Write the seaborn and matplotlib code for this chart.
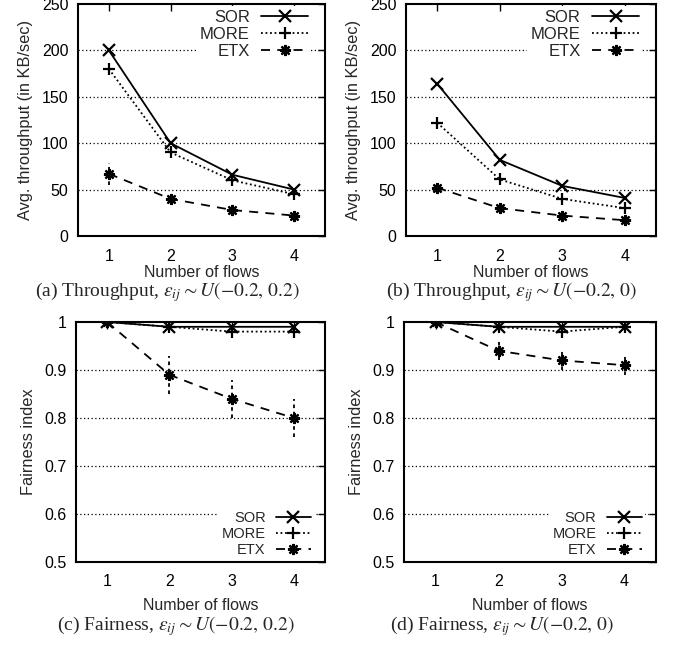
import pandas as pd
import matplotlib
matplotlib.use("Agg")
import matplotlib.pyplot as plt
import seaborn as sns

# --- DATA ---
FLOWS = [1, 2, 3, 4]
METHODS = ['SOR', 'MORE', 'ETX']

# (a) throughput, U(-0.2, 0.2)
thr_a_sor = [200, 100, 66, 50]
thr_a_more = [180, 90, 60, 45]
thr_a_etx = [67, 40, 28, 22]
thr_a_etx_err = [12, 5, 2, 2]
thr_a_more_err = [6, 3, 2, 2]

# (b) throughput, U(-0.2, 0)
thr_b_sor = [164, 82, 54, 41]
thr_b_more = [122, 61, 40, 30]
thr_b_etx = [52, 30, 22, 17]
thr_b_etx_err = [5, 2, 2, 2]
thr_b_more_err = [3, 2, 2, 2]

# (c) fairness, U(-0.2, 0.2)
fair_c_sor = [1.0, 0.99, 0.99, 0.99]
fair_c_more = [1.0, 0.99, 0.98, 0.98]
fair_c_etx = [1.0, 0.89, 0.84, 0.80]
fair_c_etx_err = [0.0, 0.04, 0.04, 0.04]
fair_c_more_err = [0.0, 0.005, 0.01, 0.01]

# (d) fairness, U(-0.2, 0)
fair_d_sor = [1.0, 0.99, 0.99, 0.99]
fair_d_more = [1.0, 0.99, 0.98, 0.99]
fair_d_etx = [1.0, 0.94, 0.92, 0.91]
fair_d_etx_err = [0.0, 0.02, 0.02, 0.02]
fair_d_more_err = [0.0, 0.005, 0.01, 0.005]

CAPTIONS = [
    r"(a) Throughput, $\epsilon_{ij} \sim U(-0.2,\, 0.2)$",
    r"(b) Throughput, $\epsilon_{ij} \sim U(-0.2,\, 0)$",
    r"(c) Fairness, $\epsilon_{ij} \sim U(-0.2,\, 0.2)$",
    r"(d) Fairness, $\epsilon_{ij} \sim U(-0.2,\, 0)$",
]

# --- STYLE ---
sns.set_style('white')
plt.rcParams['font.family'] = ['Liberation Sans', 'DejaVu Sans']
plt.rcParams['mathtext.fontset'] = 'stix'

MARKERS = {'SOR': 'x', 'MORE': '+', 'ETX': (8, 2, 0)}
DASHES = {'SOR': '', 'MORE': (1, 1.5), 'ETX': (5, 4)}
PALETTE = {m: 'black' for m in METHODS}


def make_df(sor, more, etx):
    return pd.DataFrame({
        'flows': FLOWS * 3,
        'value': list(sor) + list(more) + list(etx),
        'method': ['SOR'] * 4 + ['MORE'] * 4 + ['ETX'] * 4,
    })


def draw_panel(ax, df, more_err, etx_err, ylim, yticks, yfmt, ylabel,
               legend_loc, anchor, leg_size, leg_len, xlabelpad):
    sns.lineplot(data=df, x='flows', y='value', hue='method', style='method',
                 hue_order=METHODS, style_order=METHODS, palette=PALETTE,
                 markers=MARKERS, dashes=DASHES, markersize=8, markeredgewidth=1.6,
                 markeredgecolor='black', markerfacecolor='black',
                 linewidth=1.3, ax=ax, legend=True)

    more = df[df['method'] == 'MORE']['value'].values
    etx = df[df['method'] == 'ETX']['value'].values
    eb = ax.errorbar(FLOWS, more, yerr=more_err, fmt='none', ecolor='black',
                     elinewidth=1.3, capsize=0)
    eb[2][0].set_linestyle((0, (1, 1.5)))
    eb = ax.errorbar(FLOWS, etx, yerr=etx_err, fmt='none', ecolor='black',
                     elinewidth=1.3, capsize=0)
    eb[2][0].set_linestyle((0, (2, 2)))

    ax.set_xlim(0.5, 4.5)
    ax.set_ylim(*ylim)
    ax.set_xticks(FLOWS)
    ax.set_yticks(yticks)
    ax.set_yticklabels([yfmt(v) for v in yticks])
    for v in yticks[1:-1]:
        ax.axhline(v, color='black', lw=0.9, ls=(0, (1, 2)), zorder=0)
    ax.set_xlabel('Number of flows', fontsize=11.5, labelpad=xlabelpad)
    ax.set_ylabel(ylabel, fontsize=11.8, labelpad=6)
    ax.tick_params(direction='in', length=5, width=1, top=True, right=True,
                   labelsize=11.5, colors='black')
    ax.tick_params(axis='x', pad=9)
    ax.tick_params(axis='y', pad=7)
    for sp in ax.spines.values():
        sp.set_linewidth(1.5)
        sp.set_color('black')

    handles, labels = ax.get_legend_handles_labels()
    leg = ax.legend(handles, labels, loc=legend_loc, bbox_to_anchor=anchor,
                    markerfirst=False, frameon=True, fancybox=False, framealpha=1,
                    edgecolor='white', fontsize=leg_size, handlelength=leg_len,
                    handletextpad=0.7, labelspacing=0.12, borderpad=0.2,
                    borderaxespad=0.0)
    leg.get_frame().set_linewidth(0)


fig = plt.figure(figsize=(6.83, 6.48), dpi=100)
W, H = 683.0, 648.0


def add_ax(left, top, right, bottom):
    return fig.add_axes([left / W, 1 - bottom / H, (right - left) / W, (bottom - top) / H])


ax_a = add_ax(78, 4, 325, 236)
ax_b = add_ax(406, 4, 656, 236)
ax_c = add_ax(76, 322, 325, 562)
ax_d = add_ax(404, 322, 656, 562)

thr_ticks = [0, 50, 100, 150, 200, 250]
fair_ticks = [0.5, 0.6, 0.7, 0.8, 0.9, 1.0]
thr_fmt = lambda v: f'{v:d}'
fair_fmt = lambda v: '1' if v == 1.0 else f'{v:.1f}'

draw_panel(ax_a, make_df(thr_a_sor, thr_a_more, thr_a_etx), thr_a_more_err, thr_a_etx_err,
           (0, 250), thr_ticks, thr_fmt, 'Avg. throughput (in KB/sec)',
           'upper right', (0.945, 0.99), 12, 2.8, 1)
draw_panel(ax_b, make_df(thr_b_sor, thr_b_more, thr_b_etx), thr_b_more_err, thr_b_etx_err,
           (0, 250), thr_ticks, thr_fmt, 'Avg. throughput (in KB/sec)',
           'upper right', (0.945, 0.99), 12, 2.8, 1)
draw_panel(ax_c, make_df(fair_c_sor, fair_c_more, fair_c_etx), fair_c_more_err, fair_c_etx_err,
           (0.5, 1.0), fair_ticks, fair_fmt, 'Fairness index',
           'lower right', (0.955, 0.01), 10.5, 2.4, 6)
draw_panel(ax_d, make_df(fair_d_sor, fair_d_more, fair_d_etx), fair_d_more_err, fair_d_etx_err,
           (0.5, 1.0), fair_ticks, fair_fmt, 'Fairness index',
           'lower right', (0.955, 0.01), 10.5, 2.4, 6)

cap_kw = dict(ha='center', va='center', fontsize=14, family=['Liberation Serif', 'DejaVu Serif'])
fig.text(167 / W, 1 - 292 / H, CAPTIONS[0], **cap_kw)
fig.text(512 / W, 1 - 292 / H, CAPTIONS[1], **cap_kw)
fig.text(176 / W, 1 - 626 / H, CAPTIONS[2], **cap_kw)
fig.text(502 / W, 1 - 626 / H, CAPTIONS[3], **cap_kw)

fig.savefig('out.png', dpi=100)
